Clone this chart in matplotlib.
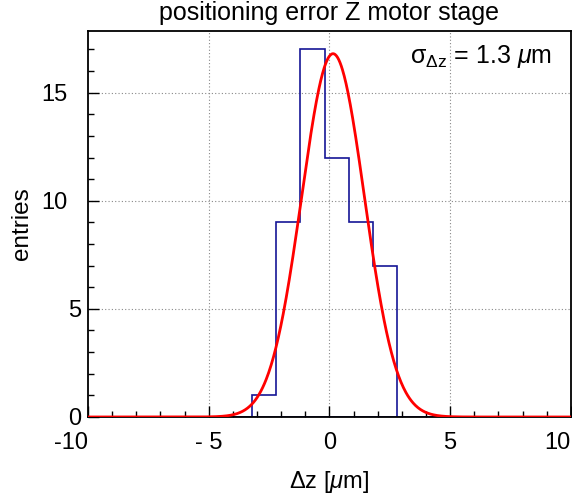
import numpy as np
import matplotlib
matplotlib.use("Agg")
import matplotlib.pyplot as plt
from matplotlib.ticker import MultipleLocator, FixedLocator

plt.rcParams['font.family'] = ['Liberation Sans', 'DejaVu Sans']
plt.rcParams['mathtext.fontset'] = 'custom'
plt.rcParams['mathtext.rm'] = 'Liberation Sans'
plt.rcParams['mathtext.it'] = 'Liberation Sans:italic'
plt.rcParams['mathtext.sf'] = 'Liberation Sans'

# Data
bin_edges = [-3.2, -2.2, -1.2, -0.2, 0.8, 1.8, 2.8]
counts = [1, 9, 17, 12, 9, 7]
fit_amp = 16.8
fit_mean = 0.15
fit_sigma = 1.3
x_ticks = [-10, -5, 0, 5, 10]
x_ticklabels = ["-10", "- 5", "0", "5", "10"]
y_ticks = [0, 5, 10, 15]
y_ticklabels = ["0", "5", "10", "15"]

fig = plt.figure(figsize=(5.72, 4.96), dpi=100)
ax = fig.add_axes([0.1538, 0.1593, 0.998 - 0.1538, 0.9375 - 0.1593])

xmin, xmax = -10, 10
ymax = 1.05 * max(counts)

# grid
for gx in [-5, 0, 5]:
    ax.axvline(gx, color='#888888', lw=0.8, ls=(0, (1, 2)), zorder=0)
for gy in [5, 10, 15]:
    ax.axhline(gy, color='#888888', lw=0.8, ls=(0, (1, 2)), zorder=0)

# histogram
blue = '#151596'
ax.plot([xmin, xmax], [0, 0], color=blue, lw=1.2, zorder=2)
ax.stairs(counts, bin_edges, baseline=0, color=blue, lw=1.2, zorder=2)

# gaussian fit curve
xf = np.linspace(xmin, xmax, 800)
yf = fit_amp * np.exp(-0.5 * ((xf - fit_mean) / fit_sigma) ** 2)
ax.plot(xf, yf, color='#ff0000', lw=2.0, zorder=3)

ax.set_xlim(xmin, xmax)
ax.set_ylim(0, ymax)

ax.xaxis.set_major_locator(FixedLocator(x_ticks))
ax.set_xticklabels(x_ticklabels)
ax.xaxis.set_minor_locator(MultipleLocator(1))
ax.yaxis.set_major_locator(FixedLocator(y_ticks))
ax.set_yticklabels(y_ticklabels)
ax.yaxis.set_minor_locator(MultipleLocator(1))

ax.tick_params(axis='both', which='major', direction='in', length=8, width=1.0,
               labelsize=17, top=False, right=False)
ax.tick_params(axis='both', which='minor', direction='in', length=4, width=1.0,
               top=False, right=False)
ax.tick_params(axis='x', which='major', pad=10.5)

# per-label alignment as in reference
xl = ax.get_xticklabels()
xl[0].set_ha('right')
xl[-1].set_ha('right')
for t, lab in zip(ax.yaxis.get_major_ticks(), y_ticklabels):
    t.set_pad(4.5 if len(lab) == 1 else 14.5)

for s in ax.spines.values():
    s.set_linewidth(1.3)
    s.set_color('black')

ax.set_xlabel(r"Δz [$\mu$m]", fontsize=17, labelpad=11)
ax.set_ylabel("entries", fontsize=17.5, labelpad=6)
ax.set_title("positioning error Z motor stage", fontsize=18, pad=8)

ax.text(0.961, 0.933, r"$\mathrm{\sigma}_{\mathrm{\Delta z}}$ = 1.3 $\mu$m", transform=ax.transAxes,
        ha='right', va='center', fontsize=18)

fig.savefig("out.png", dpi=100)
